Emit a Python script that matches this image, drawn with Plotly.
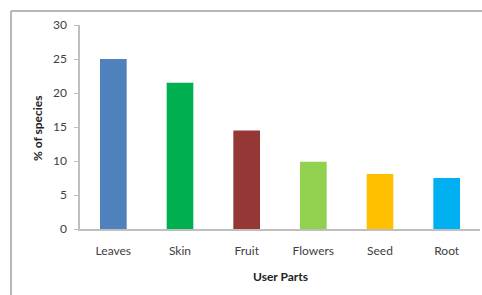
import plotly.graph_objects as go

categories = ["Leaves", "Skin", "Fruit", "Flowers", "Seed", "Root"]
values = [25.0, 21.5, 14.5, 9.9, 8.1, 7.5]
colors = ["#4F81BD", "#00B050", "#953735", "#92D050", "#FFC000", "#00B0F0"]
y_ticks = [0, 5, 10, 15, 20, 25, 30]

FONT = "Lato, Open Sans, sans-serif"

fig = go.Figure(go.Bar(x=categories, y=values, marker=dict(color=colors, line=dict(width=0)),
                       showlegend=False))

bx0 = (11 - 80) / 400
by1 = (229 - 11) / 204
fig.update_layout(
    width=482, height=295,
    margin=dict(l=80, r=2, t=25, b=66, autoexpand=False),
    paper_bgcolor="white", plot_bgcolor="white",
    bargap=0.6,
    font=dict(family=FONT, size=12, color="#404040"),
    xaxis=dict(
        automargin=False,
        showline=True, linecolor="#BFBFBF", linewidth=1.5,
        ticks="", showgrid=False,
        ticklabelstandoff=10,
        tickfont=dict(size=12, color="#404040"),
    ),
    yaxis=dict(
        automargin=False,
        range=[0, 30], tickvals=y_ticks,
        showline=True, linecolor="#BFBFBF", linewidth=1.5,
        ticks="outside", ticklen=4, tickcolor="#BFBFBF",
        ticklabelstandoff=5,
        showgrid=False, zeroline=False,
        tickfont=dict(size=12, color="#404040"),
    ),
    annotations=[
        dict(text="<b>User Parts</b>", xref="paper", yref="paper", x=0.5, y=(229 - 276) / 204,
             showarrow=False, xanchor="center", yanchor="middle",
             font=dict(size=12, color="#222")),
        dict(text="<b>% of species</b>", xref="paper", yref="paper", x=(37 - 80) / 400, y=(229 - 128) / 204,
             showarrow=False, xanchor="center", yanchor="middle", textangle=-90,
             font=dict(size=12, color="#222")),
    ],
    shapes=[
        dict(type="line", xref="paper", yref="paper", x0=bx0, x1=(490 - 80) / 400, y0=by1, y1=by1,
             line=dict(color="#A0A0A0", width=1.5), layer="below"),
        dict(type="line", xref="paper", yref="paper", x0=bx0, x1=bx0, y0=by1, y1=(229 - 300) / 204,
             line=dict(color="#A0A0A0", width=1.5), layer="below"),
    ],
)

fig.write_html("out.html", config={"displayModeBar": False},
               post_script="document.body.style.margin='0';document.body.style.overflow='hidden';"
                           "document.documentElement.style.overflow='hidden';")
